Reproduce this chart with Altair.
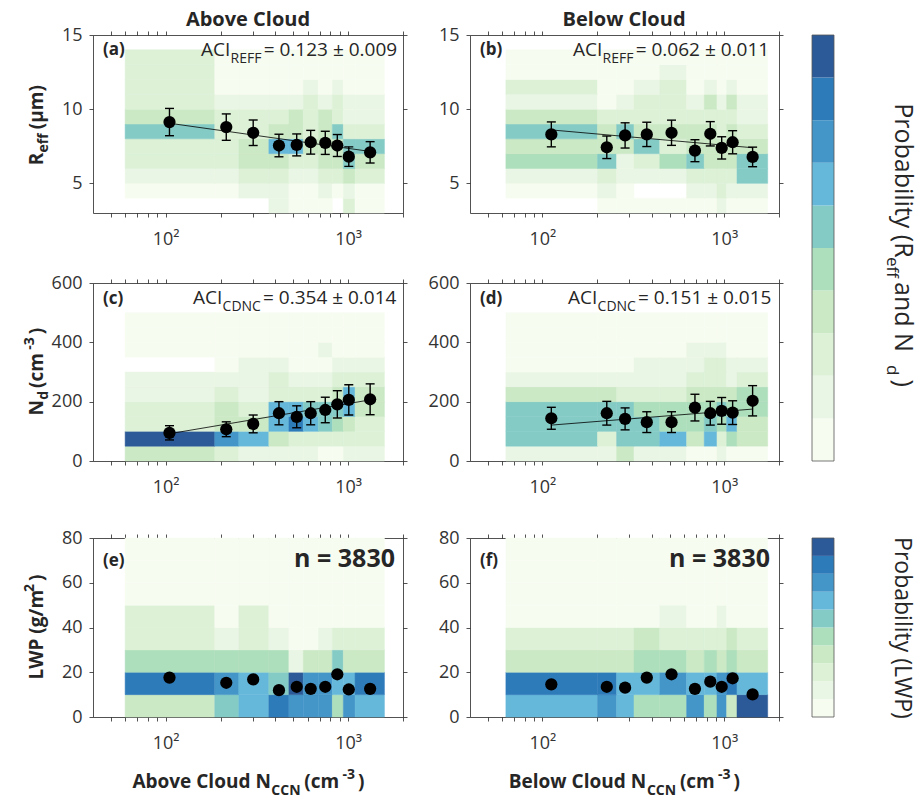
import altair as alt
import pandas as pd

FONT = "Open Sans"
INK = "#262626"
LBL = "#333333"

# ---------------- bins / scales ----------------
x_domain = [40, 2000]
x_ticks = [50, 60, 70, 80, 90, 100, 200, 300, 400, 500, 600, 700, 800, 900, 1000, 2000]
x_edges_above = [60, 186, 252, 368, 474, 568, 687, 820, 942, 1092, 1582]
x_edges_below = [63, 201, 256, 319, 442, 621, 776, 912, 1031, 1175, 1733]
reff_edges = [3, 4, 5, 6, 7, 8, 9, 10, 11, 12, 13, 14]
nd_edges = [0, 50, 100, 150, 200, 250, 300, 350, 400, 450, 500]
lwp_edges = [0, 10, 20, 30, 40, 50, 60, 70, 80]

GNBU10 = ["#f7fcf1", "#eaf6e5", "#ddf1d7", "#cbe9c5", "#aedfbc",
          "#84cbc6", "#66b8da", "#4496c9", "#2e7bba", "#2c5a98"]
prob_domain = [0.0004, 0.0489]
cbar_edges = [0.0004, 0.00525, 0.0101, 0.01495, 0.0198, 0.02465,
              0.0295, 0.03435, 0.0392, 0.04405, 0.0489]
cbar_ticks = [0.003, 0.01375, 0.02451, 0.03525, 0.046]

# ---------------- point data ----------------
nccn_above = [105, 215, 302, 418, 523, 624, 750, 873, 1009, 1321]
nccn_below = [112, 226, 285, 375, 513, 690, 838, 968, 1112, 1432]

reff_above = [9.13, 8.79, 8.41, 7.55, 7.59, 7.77, 7.73, 7.55, 6.80, 7.09]
reff_above_err = [0.92, 0.89, 0.86, 0.76, 0.74, 0.80, 0.78, 0.74, 0.66, 0.72]
reff_below = [8.30, 7.43, 8.23, 8.30, 8.41, 7.20, 8.34, 7.39, 7.77, 6.78]
reff_below_err = [0.84, 0.76, 0.85, 0.82, 0.85, 0.74, 0.82, 0.75, 0.78, 0.66]

nd_above = [95, 107, 125, 161, 149, 161, 172, 191, 206, 208]
nd_above_err = [24, 25, 30, 39, 37, 39, 43, 46, 51, 52]
nd_below = [144, 161, 142, 131, 131, 180, 161, 169, 163, 203]
nd_below_err = [37, 40, 37, 35, 35, 45, 40, 45, 40, 51]

lwp_above = [17.6, 15.3, 16.8, 12.0, 13.5, 12.6, 13.5, 19.1, 12.3, 12.6]
lwp_below = [14.6, 13.5, 13.1, 17.6, 19.1, 12.6, 15.8, 13.5, 17.3, 10.1]

# fitted lines (value at first and last N_CCN)
reff_fit_above = [9.05, 7.15]
reff_fit_below = [8.60, 7.40]
nd_fit_above = [92, 206]
nd_fit_below = [121, 175]

# ---------------- 2-D probability histograms (rows: top bin -> bottom bin) ----------------
heat_reff_above = [
    [.012, .002, .002, .002, .002, .002, .002, .002, .002, .002],
    [.012, .002, .002, .002, .002, .002, .002, .002, .002, .002],
    [.012, .002, .002, .002, .002, .007, .002, .007, .002, .002],
    [.012, .007, .007, .007, .007, .012, .007, .012, .007, .007],
    [.017, .012, .012, .012, .017, .012, .017, .012, .007, .007],
    [.027, .012, .012, .017, .017, .012, .017, .027, .012, .012],
    [.012, .012, .017, .032, .032, .017, .017, .017, .027, .027],
    [.012, .012, .017, .017, .012, .012, .017, .017, .027, .017],
    [.007, .007, .012, .012, .007, .007, .012, .012, .017, .012],
    [.002, .002, .007, .007, .002, .002, .007, .002, .007, .002],
    [None, None, None, .007, .002, .002, .002, None, .012, .002],
]
heat_reff_below = [
    [.002, .002, .002, .002, .002, .002, .002, .002, .002, .002],
    [.002, .002, .002, .002, .007, .002, .002, .002, .002, .002],
    [.012, .002, .002, .007, .012, .002, .007, .002, .007, .002],
    [.007, .002, .007, .012, .012, .007, .017, .007, .017, .007],
    [.017, .012, .012, .012, .012, .012, .012, .012, .012, .007],
    [.027, .017, .027, .017, .017, .017, .017, .012, .017, .012],
    [.017, .017, .017, .027, .012, .017, .017, .017, .017, .017],
    [.022, .027, .007, .012, .022, .027, .017, .017, .017, .027],
    [.007, .012, .007, .007, .007, .012, .012, .012, .012, .027],
    [.002, .007, .002, None, None, .007, .007, .012, .007, .007],
    [None, .002, .002, .002, .002, .002, .002, .007, .002, .002],
]
heat_nd_above = [
    [.002, .002, .002, .002, .002, .002, .002, .002, .002, .002],
    [.002, .002, .002, .002, .002, .002, .002, .002, .002, .002],
    [.002, .002, .002, .002, .002, .002, .007, .002, .002, .002],
    [None, .002, .007, .007, .002, .002, .002, .007, .007, .007],
    [.007, .007, .007, .012, .007, .007, .007, .012, .012, .012],
    [.007, .012, .007, .012, .012, .012, .012, .017, .032, .017],
    [.012, .017, .012, .032, .032, .027, .027, .027, .032, .017],
    [.012, .017, .017, .032, .042, .032, .027, .022, .017, .012],
    [.047, .037, .032, .017, .012, .012, .012, .012, .012, .012],
    [.017, .012, .007, .007, .007, .007, .002, .002, .007, .007],
]
heat_nd_below = [
    [.002, .002, .002, .002, .002, .002, .002, .002, .002, .002],
    [.002, .002, .002, .002, .002, .002, .002, .002, .002, .002],
    [.002, .002, .002, .002, .002, .007, .007, .007, .002, .002],
    [.002, .002, .002, .007, .007, .007, .012, .012, .007, .007],
    [.007, .007, .007, .007, .007, .012, .012, .012, .007, .012],
    [.017, .017, .012, .012, .012, .017, .017, .017, .017, .022],
    [.027, .027, .027, .022, .022, .022, .022, .027, .022, .022],
    [.027, .027, .027, .027, .022, .022, .027, .022, .032, .017],
    [.027, .012, .027, .027, .032, .017, .032, .012, .022, .017],
    [.007, .007, .017, .007, .007, .002, .002, .007, .002, .002],
]
heat_lwp_above = [
    [.002, .002, .002, .002, .002, .002, .002, .002, .002, .002],
    [.002, .002, .002, .002, .002, .002, .002, .002, .002, .002],
    [.002, .002, .002, .002, .002, .002, .002, .002, .002, .002],
    [.012, .002, .012, .002, .002, .002, .002, .002, .002, .002],
    [.012, .007, .012, .007, .002, .002, .007, .012, .012, .012],
    [.022, .022, .022, .022, .007, .017, .017, .027, .017, .017],
    [.042, .037, .032, .027, .047, .037, .037, .032, .032, .042],
    [.017, .027, .032, .042, .037, .037, .037, .022, .037, .032],
]
heat_lwp_below = [
    [.002, .002, .002, .002, .002, .002, .002, .002, .002, .002],
    [.002, .002, .002, .002, .002, .002, .002, .002, .002, .002],
    [.002, .002, .002, .002, .002, .002, .002, .002, .002, .002],
    [.002, .002, .002, .002, .007, .002, .002, .007, .002, .002],
    [.012, .012, .012, .017, .012, .012, .012, .012, .017, .012],
    [.017, .017, .017, .022, .022, .017, .022, .017, .022, .017],
    [.042, .042, .032, .032, .037, .032, .032, .037, .042, .032],
    [.032, .037, .032, .022, .022, .037, .022, .037, .017, .047],
]

# ---------------- helpers ----------------
CSCALE = alt.Scale(type="quantize", domain=prob_domain, range=GNBU10, nice=False)
ONE = pd.DataFrame({"k": [0]})

W_REG = {' ': .26, '(': .28, ')': .28, '-': .32, '.': .27, '/': .37, '=': .57, '±': .57, 'μ': .62,
         'A': .63, 'B': .65, 'C': .63, 'D': .72, 'E': .56, 'F': .52, 'I': .30, 'L': .52, 'N': .76,
         'P': .60, 'R': .62, 'W': .93, 'a': .56, 'b': .61, 'c': .48, 'd': .61, 'e': .56, 'f': .34,
         'g': .55, 'i': .25, 'l': .25, 'm': .93, 'n': .61, 'o': .60, 'p': .61, 'r': .41, 't': .35,
         'u': .61, 'v': .50, 'w': .78, 'y': .50}
W_BOLD = {' ': .26, '(': .30, ')': .30, '-': .32, '.': .28, '/': .39, '=': .57, '±': .57, 'μ': .65,
          'A': .70, 'B': .70, 'C': .66, 'D': .74, 'E': .56, 'F': .55, 'I': .33, 'L': .53, 'N': .82,
          'P': .65, 'R': .68, 'W': .98, 'a': .59, 'b': .63, 'c': .51, 'd': .63, 'e': .60, 'f': .42,
          'g': .56, 'i': .30, 'l': .30, 'm': .94, 'n': .64, 'o': .62, 'p': .63, 'r': .45, 't': .42,
          'u': .64, 'v': .57, 'w': .86, 'y': .57}


def text_w(s, size, weight):
    tbl = W_BOLD if weight == "bold" else W_REG
    return sum(tbl.get(ch, .57) for ch in s) * size


def txt(s, x, y, size, weight="normal", align="left", angle=0, dx=0, dy=0, color=INK):
    return alt.Chart(ONE).mark_text(
        text=s, font=FONT, fontSize=size, fontWeight=weight, align=align,
        baseline="alphabetic", angle=angle, dx=dx, dy=dy, color=color
    ).encode(x=alt.value(x), y=alt.value(y))


def rich(segs, x, y, size, weight="bold", align="center", angle=0, small=None,
         sub_dy=None, sup_dy=None, gap=3, color=INK):
    small = small or round(size * 0.7)
    sub_dy = 0.35 * size if sub_dy is None else sub_dy
    sup_dy = -0.45 * size if sup_dy is None else sup_dy
    parts = []
    for s, kind in segs:
        fs = size if kind == "n" else small
        w = text_w(s, fs, weight) + (0 if kind == "n" else gap)
        parts.append((s, kind, fs, w))
    total = sum(p[3] for p in parts)
    adv = {"left": 0.0, "center": -total / 2, "right": -total}[align]
    out = []
    for s, kind, fs, w in parts:
        shift = {"n": 0, "sub": sub_dy, "sup": sup_dy}[kind]
        out.append(txt(s, x, y, fs, weight, "left", angle, dx=round(adv, 1),
                       dy=round(shift, 1), color=color))
        adv += w
    return out


def anchor(x0, y0, x1, y1):
    # invisible layout helper that fixes the extent of a sub-view
    return alt.Chart(ONE).mark_rule(opacity=0).encode(
        x=alt.value(x0), x2=alt.value(x1), y=alt.value(y0), y2=alt.value(y1))


AX_BOTTOM = alt.Axis(values=x_ticks, title=None, tickSize=4, labelPadding=13, labelFontSize=18,
                     labelExpr="datum.value == 100 ? '10²' : (datum.value == 1000 ? '10³' : '')",
                     labelOverlap=False, labelFlush=False)
AX_TOP = alt.Axis(orient="top", values=x_ticks, title=None, tickSize=4, labels=False)


def panel(x_edges, y_edges, heat_rows, nccn, yv, yerr, fit, ydom, yticks, w, h, box, extras):
    xs = alt.Scale(type="log", domain=x_domain, nice=False)
    ys = alt.Scale(domain=ydom, nice=False, zero=False)
    recs = []
    for j, row in enumerate(heat_rows[::-1]):
        for i, p in enumerate(row):
            if p is not None:
                recs.append({"x0": x_edges[i], "x1": x_edges[i + 1],
                             "y0": y_edges[j], "y1": y_edges[j + 1], "p": p})
    heat = alt.Chart(pd.DataFrame(recs)).mark_rect(strokeWidth=0.5).encode(
        x=alt.X("x0:Q", scale=xs, axis=AX_BOTTOM), x2="x1",
        y=alt.Y("y0:Q", scale=ys, axis=alt.Axis(values=yticks, title=None, tickSize=4,
                                                labelPadding=7, labelFontSize=18)),
        y2="y1",
        color=alt.Color("p:Q", scale=CSCALE, legend=None),
        stroke=alt.Stroke("p:Q", scale=CSCALE, legend=None),
    )
    layers = [heat]
    pdf = pd.DataFrame({"x": nccn, "y": yv})
    if fit is not None:
        fdf = pd.DataFrame({"x": [nccn[0], nccn[-1]], "y": fit})
        layers.append(alt.Chart(fdf).mark_line(color="black", strokeWidth=0.8).encode(
            x=alt.X("x:Q", scale=xs, axis=None), y=alt.Y("y:Q", scale=ys, axis=None)))
    if yerr is not None:
        pdf["lo"] = [a - b for a, b in zip(yv, yerr)]
        pdf["hi"] = [a + b for a, b in zip(yv, yerr)]
        layers.append(alt.Chart(pdf).mark_rule(color="black", strokeWidth=1.4).encode(
            x=alt.X("x:Q", scale=xs, axis=None), y=alt.Y("lo:Q", scale=ys, axis=None), y2="hi"))
        for f in ("lo", "hi"):
            layers.append(alt.Chart(pdf).mark_tick(orient="horizontal", size=9, thickness=1.4,
                                                   color="black", opacity=1).encode(
                x=alt.X("x:Q", scale=xs, axis=None), y=alt.Y(f + ":Q", scale=ys, axis=None)))
    layers.append(alt.Chart(pdf).mark_circle(size=150, color="black", opacity=1).encode(
        x=alt.X("x:Q", scale=xs, axis=AX_TOP),
        y=alt.Y("y:Q", scale=ys, axis=alt.Axis(orient="right", values=yticks, title=None,
                                               tickSize=4, labels=False))))
    layers += extras
    layers.append(anchor(*box))
    return alt.layer(*layers).resolve_axis(x="independent", y="independent").properties(
        width=w, height=h)


def colorbar(height, title_layers):
    ys = alt.Scale(domain=prob_domain, nice=False, zero=False)
    bands = pd.DataFrame({"lo": cbar_edges[:-1], "hi": cbar_edges[1:]})
    bands["mid"] = (bands["lo"] + bands["hi"]) / 2
    rects = alt.Chart(bands).mark_rect().encode(
        x=alt.value(0), x2=alt.value(22),
        y=alt.Y("lo:Q", scale=ys, axis=alt.Axis(orient="right", values=cbar_ticks, format=".3f",
                                                title=None, tickSize=4, labelPadding=3,
                                                labelFontSize=16, domain=False)),
        y2="hi",
        color=alt.Color("mid:Q", scale=CSCALE, legend=None))
    frame = alt.Chart(pd.DataFrame({"lo": [prob_domain[0]], "hi": [prob_domain[1]]})).mark_rect(
        fillOpacity=0, stroke="#555555", strokeWidth=0.8).encode(
        x=alt.value(0), x2=alt.value(22), y=alt.Y("lo:Q", scale=ys, axis=None), y2="hi")
    return alt.layer(rects, frame, *title_layers, anchor(0, 0, 22, height)).properties(
        width=22, height=height)


# ---------------- panels ----------------
W1, W2, H12, H3 = 310, 309, 178, 179

a = panel(x_edges_above, reff_edges, heat_reff_above, nccn_above, reff_above, reff_above_err,
          reff_fit_above, [3, 15], [5, 10, 15], W1, H12, (-93, -35, W1 + 10, H12 + 42),
          [txt("Above Cloud", 155, -9, 20, "bold", "center"),
           txt("(a)", 10, 20, 17, "bold"),
           *rich([("ACI", "n"), ("REFF", "sub"), (" = 0.123 ± 0.009", "n")], 108, 21, 19,
                 weight="normal", align="left", small=14, sub_dy=7, gap=2),
           *rich([("R", "n"), ("eff", "sub"), (" (μm)", "n")], -50, H12 / 2, 19, angle=270,
                 small=14, sub_dy=5)])

b = panel(x_edges_below, reff_edges, heat_reff_below, nccn_below, reff_below, reff_below_err,
          reff_fit_below, [3, 15], [5, 10, 15], W2, H12, (-50, -35, W2 + 10, H12 + 42),
          [txt("Below Cloud", 154, -9, 20, "bold", "center"),
           txt("(b)", 10, 20, 17, "bold"),
           *rich([("ACI", "n"), ("REFF", "sub"), (" = 0.062 ± 0.011", "n")], 103, 21, 19,
                 weight="normal", align="left", small=14, sub_dy=7, gap=2)])

c = panel(x_edges_above, nd_edges, heat_nd_above, nccn_above, nd_above, nd_above_err,
          nd_fit_above, [0, 600], [0, 200, 400, 600], W1, H12, (-93, -28, W1 + 10, H12 + 42),
          [txt("(c)", 10, 21, 17, "bold"),
           *rich([("ACI", "n"), ("CDNC", "sub"), (" = 0.354 ± 0.014", "n")], 100, 21, 19,
                 weight="normal", align="left", small=14, sub_dy=7, gap=2),
           *rich([("N", "n"), ("d", "sub"), (" (cm", "n"), ("-3", "sup"), (")", "n")],
                 -50, H12 / 2, 19, angle=270, small=14, sub_dy=5, sup_dy=-9)])

d = panel(x_edges_below, nd_edges, heat_nd_below, nccn_below, nd_below, nd_below_err,
          nd_fit_below, [0, 600], [0, 200, 400, 600], W2, H12, (-50, -28, W2 + 10, H12 + 42),
          [txt("(d)", 10, 21, 17, "bold"),
           *rich([("ACI", "n"), ("CDNC", "sub"), (" = 0.151 ± 0.015", "n")], 98, 21, 19,
                 weight="normal", align="left", small=14, sub_dy=7, gap=2)])

e = panel(x_edges_above, lwp_edges, heat_lwp_above, nccn_above, lwp_above, None, None,
          [0, 80], [0, 20, 40, 60, 80], W1, H3, (-93, -35, W1 + 10, H3 + 40),
          [txt("(e)", 10, 28, 17, "bold"),
           txt("n = 3830", 302, 29, 25, "bold", "right"),
           *rich([("LWP (g/m", "n"), ("2", "sup"), (")", "n")], -50, H3 / 2, 19, angle=270,
                 small=14, sup_dy=-9),
           *rich([("Above Cloud N", "n"), ("CCN", "sub"), (" (cm", "n"), ("-3", "sup"), (")", "n")],
                 155, H3 + 71, 19, small=14, sub_dy=7, sup_dy=-9)])

f = panel(x_edges_below, lwp_edges, heat_lwp_below, nccn_below, lwp_below, None, None,
          [0, 80], [0, 20, 40, 60, 80], W2, H3, (-50, -35, W2 + 10, H3 + 40),
          [txt("(f)", 10, 28, 17, "bold"),
           txt("n = 3830", 300, 29, 25, "bold", "right"),
           *rich([("Below Cloud N", "n"), ("CCN", "sub"), (" (cm", "n"), ("-3", "sup"), (")", "n")],
                 154, H3 + 71, 19, small=14, sub_dy=7, sup_dy=-9)])

cb1 = colorbar(426, rich([("Probability (R", "n"), ("eff", "sub"), ("  and N", "n"),
                          ("d", "sub"), (" )", "n")],
                         83, 213, 25, weight="normal", angle=90, small=17, sub_dy=8, gap=4))
cb2 = colorbar(179, rich([("Probability (LWP)", "n")], 83, 89.5, 23, weight="normal", angle=90))

row1 = alt.hconcat(a, b, spacing=7)
row2 = alt.hconcat(c, d, spacing=7)
top = alt.hconcat(alt.vconcat(row1, row2, spacing=0), cb1, spacing=22)
bottom = alt.hconcat(alt.hconcat(e, f, spacing=7), cb2, spacing=22)

chart = alt.vconcat(top, bottom, spacing=0).properties(
    padding={"left": 0, "top": 0, "right": 6, "bottom": 0}, background="white"
).configure_view(stroke=None).configure_axis(
    labelFont=FONT, labelColor=LBL, tickColor=INK, domainColor=INK,
    tickWidth=0.8, domainWidth=0.8, grid=False
)

chart.save("out.html", embed_options={"renderer": "svg", "actions": False})
